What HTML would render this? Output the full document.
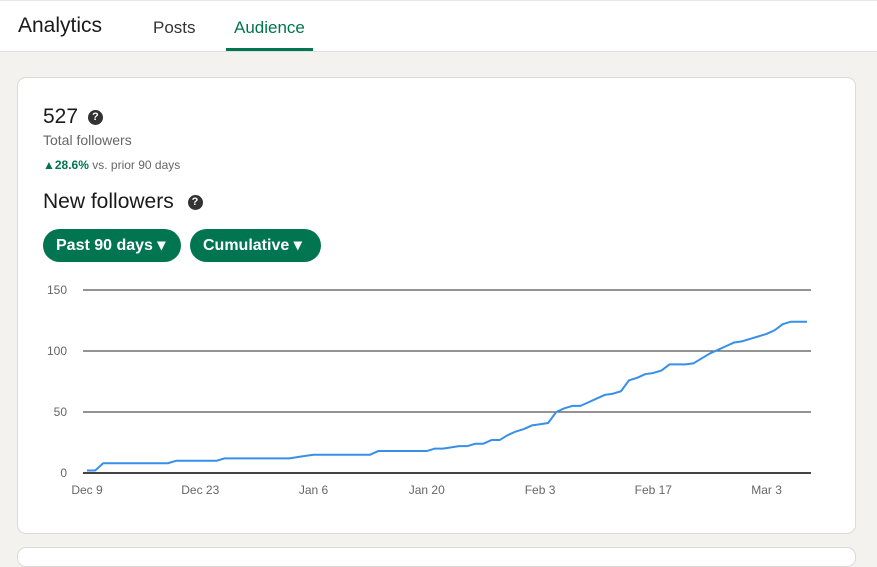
<!DOCTYPE html>
<html><head><meta charset="utf-8">
<style>
*{box-sizing:border-box;margin:0;padding:0}
body{width:877px;height:551px;overflow:hidden;background:#f3f2ef;font-family:"Liberation Sans",sans-serif;position:relative}
.hdr{position:absolute;left:0;top:0;width:877px;height:52px;background:#fff;border-bottom:1px solid #e0dfdc;border-top:1px solid #e8e8e8}
.t{position:absolute;white-space:nowrap}
.card{position:absolute;left:17px;top:77px;width:839px;height:457px;background:#fff;border:1px solid #dcdad6;border-radius:9px}
.card2{position:absolute;left:17px;top:547px;width:839px;height:20px;background:#fff;border:1px solid #dcdad6;border-radius:9px}
.btn{position:absolute;top:229px;height:33px;background:#01754f;color:#fff;border-radius:17px;font-weight:bold;font-size:16px;line-height:33px;padding-left:13px}
.q{display:inline-block;width:15px;height:15px;border-radius:50%;background:#333;color:#fff;font-size:11px;font-weight:bold;text-align:center;line-height:15px;vertical-align:middle}
</style></head><body>
<div class="hdr">
<div class="t" style="left:18px;top:13px;font-size:21px;color:#1a1a1a">Analytics</div>
<div class="t" style="left:153px;top:17px;font-size:17px;color:#333">Posts</div>
<div class="t" style="left:234px;top:17px;font-size:17px;color:#01754f">Audience</div>
<div style="position:absolute;left:226px;top:47px;width:87px;height:3px;background:#01754f"></div>
</div>
<div class="card"></div>
<div class="card2"></div>
<div class="t" style="left:43px;top:105px;font-size:21px;color:#1a1a1a">527 <span class="q" style="margin-left:4px">?</span></div>
<div class="t" style="left:43px;top:132px;font-size:14px;color:#666">Total followers</div>
<div class="t" style="left:43px;top:158px;font-size:12px;color:#666"><span style="color:#01754f;font-weight:bold">▲28.6%</span> vs. prior 90 days</div>
<div class="t" style="left:43px;top:190px;font-size:21px;color:#1a1a1a">New followers <span class="q" style="margin-left:8px">?</span></div>
<div class="btn" style="left:43px;width:138px">Past 90 days ▾</div>
<div class="btn" style="left:190px;width:131px">Cumulative ▾</div>
<svg id="chart" width="877" height="551" style="position:absolute;left:0;top:0"></svg>
<script>
const yTicks=[0,50,100,150];
const xLabels=["Dec 9","Dec 23","Jan 6","Jan 20","Feb 3","Feb 17","Mar 3"];
const xLabelDays=[0,14,28,42,56,70,84];
const followers=[2,2,8,8,8,8,8,8,8,8,8,10,10,10,10,10,10,12,12,12,12,12,12,12,12,12,13,14,15,15,15,15,15,15,15,15,18,18,18,18,18,18,18,20,20,21,22,22,24,24,27,27,31,34,36,39,40,41,50,53,55,55,58,61,64,65,67,76,78,81,82,84,89,89,89,90,94,98,101,104,107,108,110,112,114,117,122,124,124,124];
const svg=document.getElementById('chart');const NS='http://www.w3.org/2000/svg';
const y=v=>473-v*(183/150);
const x=d=>87+d*(720/89);
function mk(t,a){const e=document.createElementNS(NS,t);for(const k in a)e.setAttribute(k,a[k]);svg.appendChild(e);return e;}
yTicks.forEach(v=>{
 const g=mk('line',{x1:83,x2:811,y1:y(v),y2:y(v),stroke:v===0?'#444':'#555','stroke-width':v===0?2:1.2});
 
 
 const t=mk('text',{x:67,y:y(v)+4,'text-anchor':'end','font-size':12,fill:'#666','font-family':'Liberation Sans, sans-serif'});
 t.textContent=v;
 
 
});
xLabels.forEach((l,i)=>{
 const t=mk('text',{x:x(xLabelDays[i]),y:494,'text-anchor':'middle','font-size':12,fill:'#666','font-family':'Liberation Sans, sans-serif'});
 t.textContent=l;
 
 
});
const p=mk('polyline',{points:followers.map((v,i)=>x(i)+','+y(v)).join(' '),fill:'none',stroke:'#378fe9','stroke-width':2,'stroke-linejoin':'round'});


</script>
</body></html>
